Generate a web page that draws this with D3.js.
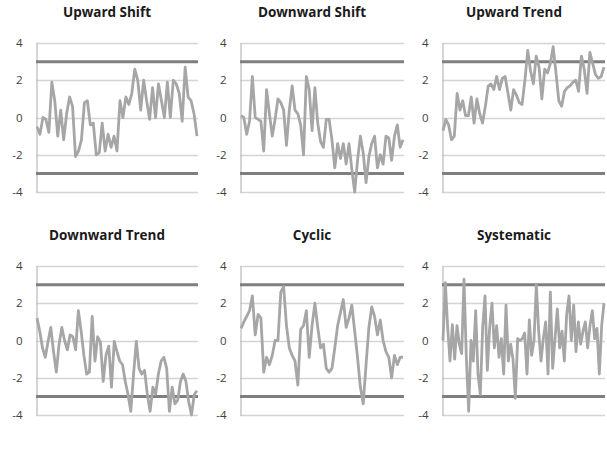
<!DOCTYPE html>
<html>
<head>
<meta charset="utf-8">
<script src="https://cdn.jsdelivr.net/npm/d3@7"></script>
<style>
  body { margin: 0; background: #fff; }
  svg { display: block; }
  .title { font-family: "Open Sans", "Liberation Sans", sans-serif; font-weight: bold; font-size: 13.5px; fill: #1a1a1a; }
  .tick text { font-family: "Open Sans", "Liberation Sans", sans-serif; font-size: 11.5px; fill: #404040; }
</style>
</head>
<body>
<div id="chart"></div>
<script>
// values
const upwardShift = [-0.5, -0.9, 0.0, -0.1, -0.8, 1.9, 0.9, -1.0, 0.4, -1.2, 0.2, 1.1, 0.6, -2.1, -1.8, -1.2, 0.8, 0.9, -0.4, -0.3, -2.0, -1.9, -0.3, -1.8, -0.9, -1.6, -1.0, -1.8, 0.9, 0.0, 1.1, 0.7, 1.3, 2.6, 2.0, 0.4, 2.0, 0.9, -0.1, 1.6, 0.0, 1.8, 0.9, 0.0, 1.9, 0.0, 2.0, 1.8, 1.3, -0.2, 2.7, 1.1, 0.9, 0.2, -1.0];
const downwardShift = [0.1, 0.0, -0.9, -0.2, 2.2, 0.0, -0.1, -0.2, -1.8, 1.5, 0.2, -1.0, -0.1, 1.0, 0.8, 0.4, -1.5, 0.4, 1.7, 0.4, 0.2, -0.4, -2.0, 2.2, 1.5, -0.7, 1.6, -0.3, -1.3, -1.6, -0.1, -0.1, -1.2, -2.7, -1.4, -2.2, -1.4, -2.5, -1.4, -2.8, -4.0, -2.3, -1.0, -1.9, -3.5, -2.1, -1.4, -1.0, -2.7, -2.0, -2.5, -1.0, -1.1, -2.3, -1.0, -0.4, -1.6, -1.2];
const upwardTrend = [-0.7, -0.1, -0.4, -1.2, -1.0, 1.3, 0.4, 0.9, 0.1, 0.1, 1.1, -0.3, 1.0, 0.2, -0.3, 0.6, 1.7, 1.8, 1.5, 2.2, 1.5, 2.1, 2.2, 1.3, 0.4, 1.5, 1.2, 0.8, 0.7, 2.0, 3.6, 2.5, 1.8, 3.3, 2.7, 1.0, 2.6, 2.4, 2.9, 3.8, 2.4, 0.9, 0.6, 1.4, 1.6, 1.7, 1.9, 2.0, 1.4, 3.3, 2.6, 1.3, 3.5, 2.9, 2.3, 2.1, 2.2, 2.7];
const downwardTrend = [1.2, 0.5, -0.4, -0.9, -0.05, 0.7, -0.6, -1.7, -0.2, 0.7, 0.0, -0.5, 0.3, 0.2, -0.5, 1.6, 0.5, -0.8, -1.8, -1.7, 1.3, -1.1, 0.2, -0.1, -2.2, -0.8, -0.3, -2.5, -0.05, -0.6, -1.1, -1.3, -2.2, -2.9, -3.8, -1.8, -0.05, -1.5, -1.8, -1.6, -2.9, -3.8, -2.5, -2.9, -1.8, -1.1, -0.9, -1.5, -3.8, -2.5, -3.4, -3.2, -2.2, -1.8, -2.2, -3.3, -4.0, -2.9, -2.7];
const cyclic = [0.65, 1.0, 1.3, 1.6, 2.4, 0.3, 1.4, 1.2, -1.7, -0.9, -1.3, -0.8, 0.0, 0.0, 2.6, 2.9, 0.8, -0.4, -0.8, -1.1, -2.4, 0.6, 0.8, 1.6, -0.9, 0.8, 2.0, 0.7, -0.4, -0.2, -1.5, -1.7, -1.5, -0.4, 0.8, 1.5, 2.2, 0.7, 1.2, 1.9, 0.5, -0.9, -2.5, -3.4, -1.3, 0.7, 1.8, 1.3, 0.3, 1.1, 0.0, -0.6, -0.9, -2.0, -0.8, -1.3, -0.9, -0.9];
const systematic = [0.0, 3.1, 0.7, -1.1, 0.85, -1.0, 0.8, -0.2, -0.7, 3.3, -0.9, -3.8, 0.0, -1.1, 1.6, -1.8, -2.9, 0.7, 2.4, -1.6, 0.7, 2.0, -0.4, 0.8, -0.9, 0.1, -1.8, 1.9, -1.1, -0.2, -1.0, -3.1, 0.1, 0.0, 0.1, 0.4, -1.8, 1.1, -0.8, 0.0, 3.0, 0.5, -1.1, 0.1, 1.0, -1.8, 2.6, -1.5, 0.1, 1.7, -0.4, 0.5, -1.1, 1.4, 2.4, 0.0, 1.9, -0.6, 1.0, -0.2, 0.5, 1.0, -0.4, 0.8, 1.6, 0.1, 0.65, -1.8, 0.8, 2.0];

const titles = ["Upward Shift", "Downward Shift", "Upward Trend", "Downward Trend", "Cyclic", "Systematic"];
const seriesList = [upwardShift, downwardShift, upwardTrend, downwardTrend, cyclic, systematic];
const yTicks = [-4, -2, 0, 2, 4];
const limits = [-3, 3];

const width = 607, height = 450;

// panel boxes: left/right of plot area, y of top (4) and bottom (-4), title position
const colLeft = [36, 240, 442];
const colRight = [198, 404, 605];
const titleX = [107, 312, 514];
const rowTop = [43, 266];
const rowBottom = [192, 415];
const titleY = [17, 240];

const svg = d3.select("#chart").append("svg")
    .attr("width", width)
    .attr("height", height);

seriesList.forEach(function (values, i) {
  let col = i % 3, row = Math.floor(i / 3);

  let x = d3.scaleLinear()
      .domain([0, values.length - 1])
      .range([colLeft[col] + 1, colRight[col] - 1]);
  let y = d3.scaleLinear()
      .domain([-4, 4])
      .range([rowBottom[row], rowTop[row]]);

  let g = svg.append("g").attr("class", "panel");

  // horizontal gridlines
  g.selectAll(".grid")
    .data(yTicks)
    .enter().append("line")
    .attr("class", "grid")
    .attr("x1", colLeft[col])
    .attr("x2", colRight[col])
    .attr("y1", function (d) { return Math.round(y(d)) + 0.5; })
    .attr("y2", function (d) { return Math.round(y(d)) + 0.5; })
    .style("stroke", "#d4d4d4")
    .style("stroke-width", 1.3);

  // y axis with labels only
  let axis = g.append("g")
    .attr("transform", "translate(" + (colLeft[col] + 0.5) + ",0)")
    .call(d3.axisLeft(y).tickValues(yTicks).tickSize(0).tickPadding(14).tickFormat(d3.format("d")));
  axis.select(".domain").style("stroke", "#bfbfbf").style("stroke-width", 1.3);
  axis.selectAll(".tick text").text(function (d) { return d < 0 ? "-" + Math.abs(d) : d; });

  // control limits
  g.selectAll(".limit")
    .data(limits)
    .enter().append("line")
    .attr("class", "limit")
    .attr("x1", colLeft[col])
    .attr("x2", colRight[col])
    .attr("y1", function (d) { return y(d); })
    .attr("y2", function (d) { return y(d); })
    .style("stroke", "#7f7f7f")
    .style("stroke-width", 3);

  // the series
  g.append("path")
    .datum(values)
    .attr("d", d3.line()
      .x(function (d, j) { return x(j); })
      .y(function (d) { return y(d); }))
    .style("fill", "none")
    .style("stroke", "#a6a6a6")
    .style("stroke-width", 2.8)
    .style("stroke-linejoin", "round");

  svg.append("text")
    .attr("class", "title")
    .attr("x", titleX[col])
    .attr("y", titleY[row])
    .attr("text-anchor", "middle")
    .text(titles[i]);
});
</script>
</body>
</html>
